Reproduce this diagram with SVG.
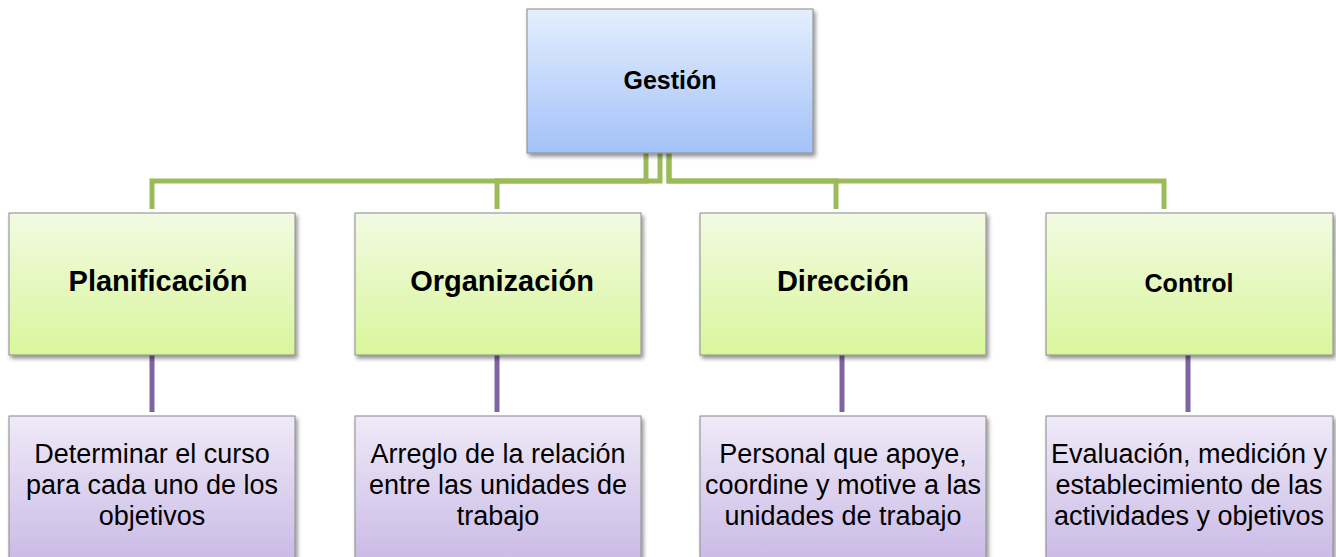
<svg xmlns="http://www.w3.org/2000/svg" width="1336" height="557" viewBox="0 0 1336 557">
  <defs>
    <linearGradient id="gBlue" x1="0" y1="0" x2="0" y2="1">
      <stop offset="0" stop-color="#E4EEFD"/>
      <stop offset="1" stop-color="#A3C2F8"/>
    </linearGradient>
    <linearGradient id="gGreen" x1="0" y1="0" x2="0" y2="1">
      <stop offset="0" stop-color="#F2FAE3"/>
      <stop offset="1" stop-color="#D9F69B"/>
    </linearGradient>
    <linearGradient id="gPurple" x1="0" y1="0" x2="0" y2="1">
      <stop offset="0" stop-color="#EFEAF8"/>
      <stop offset="1" stop-color="#C4B2E3"/>
    </linearGradient>
    <filter id="shadow" x="-5%" y="-5%" width="112%" height="115%">
      <feGaussianBlur in="SourceAlpha" stdDeviation="2"/>
      <feOffset dx="2" dy="3" result="b"/>
      <feComponentTransfer><feFuncA type="linear" slope="0.45"/></feComponentTransfer>
      <feMerge><feMergeNode/><feMergeNode in="SourceGraphic"/></feMerge>
    </filter>
  </defs>
  <style>
    .box { stroke: #8A8A8A; stroke-width: 1; filter: url(#shadow); }
    .top { fill: url(#gBlue); }
    .mid { fill: url(#gGreen); }
    .low { fill: url(#gPurple); }
    .g { fill: none; stroke: #9BBB59; stroke-width: 5; }
    .p { fill: none; stroke: #8064A2; stroke-width: 5; }
    .t1 { font-family: "Liberation Sans", Arial, sans-serif; font-weight: bold; font-size: 25px; fill: #000; text-anchor: middle; }
    .t2 { font-family: "Liberation Sans", Arial, sans-serif; font-weight: bold; font-size: 29px; fill: #000; text-anchor: middle; }
    .t3 { font-family: "Liberation Sans", Arial, sans-serif; font-size: 27px; fill: #000; text-anchor: middle; }
  </style>
  <rect width="1336" height="557" fill="#FFFFFF"/>

  <g id="connectors">
    <path class="g" d="M660,153 V181 H152 V209"/>
    <path class="g" d="M646,153 V181 H497 V209"/>
    <path class="g" d="M669,153 V181 H836 V209"/>
    <path class="g" d="M669,153 V181 H1164 V209"/>
    <path class="p" d="M152,355 V412"/>
    <path class="p" d="M497,355 V412"/>
    <path class="p" d="M842,355 V412"/>
    <path class="p" d="M1188,355 V412"/>
  </g>

  <g id="gestion">
    <rect class="box top" x="527" y="9" width="286" height="144"/>
    <text class="t1" x="670" y="89">Gestión</text>
  </g>

  <g id="planificacion">
    <rect class="box mid" x="9" y="213" width="286" height="142"/>
    <text class="t2" x="158" y="291">Planificación</text>
  </g>
  <g id="organizacion">
    <rect class="box mid" x="355" y="213" width="286" height="142"/>
    <text class="t2" x="502" y="291">Organización</text>
  </g>
  <g id="direccion">
    <rect class="box mid" x="700" y="213" width="286" height="142"/>
    <text class="t2" x="843" y="291">Dirección</text>
  </g>
  <g id="control">
    <rect class="box mid" x="1046" y="213" width="287" height="142"/>
    <text class="t1" x="1189" y="292">Control</text>
  </g>

  <g id="planificacion-desc">
    <rect class="box low" x="9" y="416" width="286" height="170"/>
    <text class="t3" x="152" y="463">Determinar el curso</text>
    <text class="t3" x="152" y="494">para cada uno de los</text>
    <text class="t3" x="152" y="525">objetivos</text>
  </g>
  <g id="organizacion-desc">
    <rect class="box low" x="355" y="416" width="286" height="170"/>
    <text class="t3" x="498" y="463">Arreglo de la relación</text>
    <text class="t3" x="498" y="494">entre las unidades de</text>
    <text class="t3" x="498" y="525">trabajo</text>
  </g>
  <g id="direccion-desc">
    <rect class="box low" x="700" y="416" width="286" height="170"/>
    <text class="t3" x="843" y="463">Personal que apoye,</text>
    <text class="t3" x="843" y="494">coordine y motive a las</text>
    <text class="t3" x="843" y="525">unidades de trabajo</text>
  </g>
  <g id="control-desc">
    <rect class="box low" x="1046" y="416" width="287" height="170"/>
    <text class="t3" x="1189" y="463">Evaluación, medición y</text>
    <text class="t3" x="1189" y="494">establecimiento de las</text>
    <text class="t3" x="1189" y="525">actividades y objetivos</text>
  </g>
</svg>
